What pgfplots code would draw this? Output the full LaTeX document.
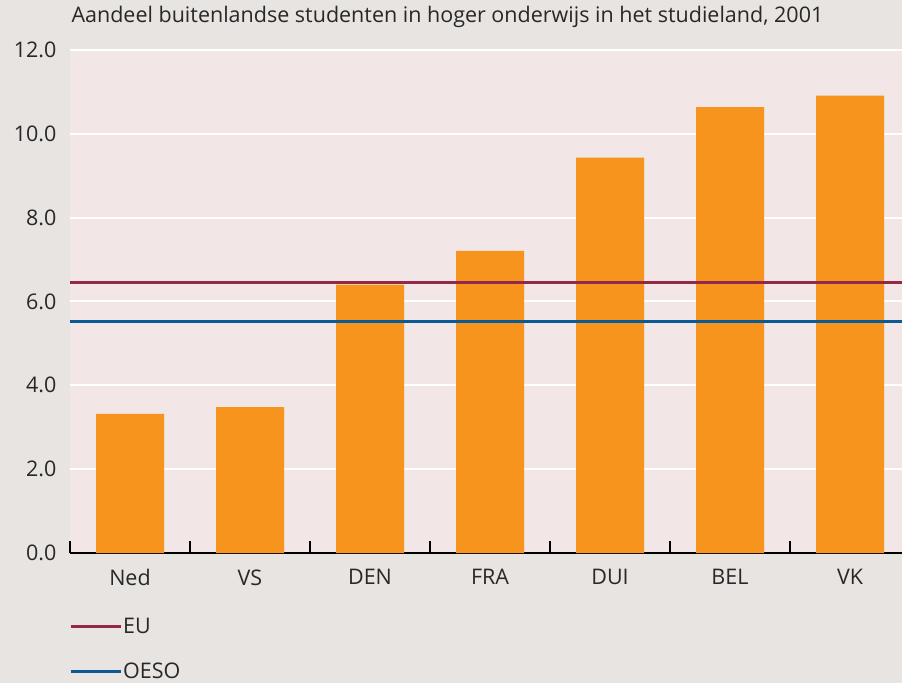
\documentclass[border=0pt]{standalone}
\usepackage{fontspec}
\setmainfont{Open Sans}
\usepackage{pgfplots}
\pgfplotsset{compat=1.18}
\definecolor{outerbg}{RGB}{232,228,225}
\definecolor{plotbg}{RGB}{242,230,230}
\definecolor{barorange}{RGB}{247,148,30}
\definecolor{eured}{RGB}{148,40,72}
\definecolor{oesoblue}{RGB}{12,90,148}
\definecolor{txt}{RGB}{40,40,40}
\begin{document}
\begin{tikzpicture}[x=1pt,y=1pt]
\fill[outerbg] (0,0) rectangle (902,683);
\useasboundingbox (0,0) rectangle (902,683);
\begin{axis}[
  at={(70pt,130pt)}, anchor=south west,
  scale only axis, width=832pt, height=503pt,
  xmin=-0.5, xmax=6.4333, ymin=0, ymax=12,
  axis background/.style={fill=plotbg},
  axis x line*=bottom, axis y line*=left,
  axis line style={-},
  x axis line style={draw=black, line width=1.2pt},
  y axis line style={draw=none},
  ymajorgrids, grid style={white, line width=2pt},
  ytick={0,2,...,12},
  ytick style={draw=none},
  /pgf/number format/assume math mode=true,
  yticklabel={\pgfmathprintnumber[fixed,fixed zerofill,precision=1]{\tick}},
  yticklabel style={font=\fontsize{21.5}{25}\selectfont, color=txt, xshift=-10pt},
  xtick={0,...,6},
  xticklabels={Ned,VS,DEN,FRA,DUI,BEL,VK},
  xticklabel style={font=\fontsize{21.5}{25}\selectfont, color=txt, yshift=-13pt},
  major x tick style={draw=none},
  extra x ticks={-0.5,0.5,1.5,2.5,3.5,4.5,5.5},
  extra x tick labels={},
  extra x tick style={grid=none, major tick length=12pt, tick align=inside,
    major x tick style={draw=black, line width=1.2pt}},
  title={Aandeel buitenlandse studenten in hoger onderwijs in het studieland, 2001},
  title style={at={(0,1)}, anchor=base west, xshift=-2pt, yshift=21pt,
    font=\fontsize{21.5}{25}\selectfont, color=txt},
  legend style={at={(0,0)}, anchor=north west, xshift=-1pt, yshift=-64pt,
    draw=none, fill=none, inner sep=0pt, row sep=26pt,
    font=\fontsize{21.5}{25}\selectfont, text=txt,
    nodes={inner sep=1pt}},
  legend cell align=left,
  legend image code/.code={\draw[#1] (0pt,0pt) -- (50pt,0pt);},
]
\addplot[ybar, bar width=68pt, fill=barorange, draw=none, forget plot]
  coordinates {(0,3.32) (1,3.48) (2,6.40) (3,7.21) (4,9.43) (5,10.64) (6,10.91)};
\addplot[eured, line width=3pt] coordinates {(-0.5,6.46) (6.4333,6.46)};
\addlegendentry{EU}
\addplot[oesoblue, line width=3pt] coordinates {(-0.5,5.53) (6.4333,5.53)};
\addlegendentry{OESO}
\end{axis}
\end{tikzpicture}
\end{document}
